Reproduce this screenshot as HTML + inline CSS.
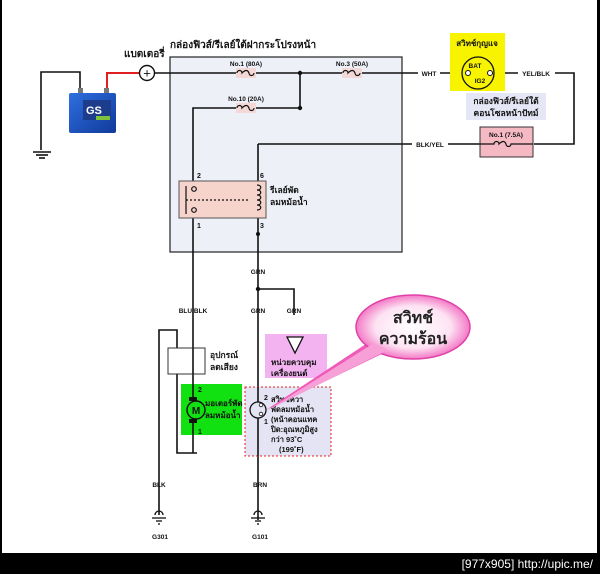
<!DOCTYPE html>
<html><head><meta charset="utf-8"><style>
html,body{margin:0;padding:0;background:#fff;width:600px;height:574px;overflow:hidden}
svg{display:block}
text{font-family:"Liberation Sans","Noto Sans CJK SC",sans-serif;font-weight:bold;fill:#111}
</style></head><body>
<svg width="600" height="574" viewBox="0 0 600 574" xmlns="http://www.w3.org/2000/svg">
<defs>
<radialGradient id="bub" cx="50%" cy="50%" r="55%">
<stop offset="0" stop-color="#fff"/><stop offset="0.6" stop-color="#fde3f3"/><stop offset="1" stop-color="#f05ab8"/>
</radialGradient>
<linearGradient id="bat" x1="0" y1="0" x2="1" y2="1"><stop offset="0" stop-color="#2f6fe0"/><stop offset="1" stop-color="#103a9a"/></linearGradient>
</defs>
<rect x="0" y="0" width="600" height="574" fill="#fff"/>
<rect x="0" y="0" width="2" height="574" fill="#000"/>
<rect x="597" y="0" width="3" height="574" fill="#000"/>
<rect x="0" y="553" width="600" height="21" fill="#000"/>
<text x="593" y="568" text-anchor="end" font-size="12" style="fill:#fff;font-weight:normal">[977x905] http://upic.me/</text>

<rect x="170" y="57" width="232" height="195" fill="#eef0f8" stroke="#222" stroke-width="1.2"/>
<text x="170" y="48" font-size="10">กล่องฟิวส์/รีเลย์ใต้ฝากระโปรงหน้า</text>
<text x="124" y="57" font-size="10">แบตเตอรี่</text>

<g stroke="#111" stroke-width="1.6" fill="none">
<polyline points="80,92 80,72 41,72 41,150"/>
<line x1="33" y1="152" x2="51" y2="152"/><line x1="36" y1="155" x2="48" y2="155"/><line x1="39" y1="158" x2="45" y2="158"/>
<line x1="154" y1="73" x2="237" y2="73"/><line x1="255" y1="73" x2="343" y2="73"/><line x1="362" y1="73" x2="418" y2="73"/>
<line x1="440" y1="73" x2="470" y2="73"/>
<line x1="486" y1="73" x2="518" y2="73"/>
<polyline points="555,73 574,73 574,144 534,144"/>
<line x1="300" y1="73" x2="300" y2="108"/>
<polyline points="300,108 255,108"/><polyline points="237,108 193,108 193,183"/>
<line x1="193" y1="216" x2="193" y2="453"/>
<polyline points="448,144 480,144"/>
<polyline points="258,144 412,144"/>
<line x1="258" y1="144" x2="258" y2="183"/>
<line x1="258" y1="216" x2="258" y2="520"/>
<polyline points="258,289 294,289 294,315"/>
<polyline points="159,515 159,330 177,330 177,453 197,453"/>
</g>
<circle cx="300" cy="73" r="2.2" fill="#111"/><circle cx="300" cy="108" r="2.2" fill="#111"/>
<circle cx="258" cy="289" r="2.2" fill="#111"/><circle cx="258" cy="234" r="2" fill="#111"/>
<polyline points="107,92 107,73 140,73" stroke="#e02020" stroke-width="2" fill="none"/>
<circle cx="147" cy="73" r="7.5" fill="#fff" stroke="#111" stroke-width="1.4"/>
<text x="147" y="77.5" font-size="13" text-anchor="middle" style="font-weight:normal">+</text>
<rect x="78" y="88" width="5" height="5" fill="#777"/><rect x="104" y="88" width="5" height="5" fill="#777"/>
<rect x="69" y="93" width="47" height="40" rx="2" fill="url(#bat)"/>
<rect x="83" y="100" width="28" height="20" fill="#1e3c8c"/>
<text x="86" y="114" font-size="11" style="fill:#fff">GS</text>
<rect x="96" y="116" width="14" height="4" fill="#7dc23a"/>

<g font-size="6.5">
<text x="246" y="66" text-anchor="middle">No.1 (80A)</text>
<text x="246" y="101" text-anchor="middle">No.10 (20A)</text>
<text x="352" y="66" text-anchor="middle">No.3 (50A)</text>
<text x="429" y="76" text-anchor="middle">WHT</text>
<text x="536" y="76" text-anchor="middle">YEL/BLK</text>
<text x="430" y="147" text-anchor="middle">BLK/YEL</text>
</g>
<rect x="236" y="68" width="20" height="10" fill="#f4d7d7"/><rect x="236" y="103" width="20" height="10" fill="#f4d7d7"/><rect x="342" y="68" width="20" height="10" fill="#f4d7d7"/>
<g stroke="#111" stroke-width="1.2" fill="none">
<path d="M237,73 a2.5,2.5 0 1,1 5,0 q5,-5 7,0 a2.5,2.5 0 1,0 5,0"/>
<path d="M237,108 a2.5,2.5 0 1,1 5,0 q5,-5 7,0 a2.5,2.5 0 1,0 5,0"/>
<path d="M343,73 a2.5,2.5 0 1,1 5,0 q5,-5 7,0 a2.5,2.5 0 1,0 5,0"/>
</g>
<rect x="450" y="33" width="55" height="58" fill="#f8f400"/>
<text x="477" y="46" font-size="8" text-anchor="middle">สวิทช์กุญแจ</text>
<circle cx="478" cy="73" r="16" fill="none" stroke="#111" stroke-width="1.3"/>
<circle cx="468" cy="73" r="2.5" fill="#fff" stroke="#111"/><circle cx="490" cy="73" r="2.5" fill="#fff" stroke="#111"/>
<text x="475" y="68" font-size="6.5" text-anchor="middle">BAT</text>
<text x="480" y="83" font-size="6.5" text-anchor="middle">IG2</text>
<rect x="466" y="93" width="80" height="27" fill="#e6e7f6"/>
<text x="506" y="104" font-size="8.5" text-anchor="middle">กล่องฟิวส์/รีเลย์ใต้</text>
<text x="506" y="116" font-size="8.5" text-anchor="middle">คอนโซลหน้าปัทม์</text>
<rect x="480" y="127" width="53" height="30" fill="#f5b9c4" stroke="#333"/>
<text x="506" y="137" font-size="6.5" text-anchor="middle">No.1 (7.5A)</text>
<path d="M480,144 h14 a2.5,2.5 0 1,1 5,0 q5,-5 7,0 a2.5,2.5 0 1,0 5,0 h22" stroke="#111" stroke-width="1.2" fill="none"/>

<rect x="179" y="181" width="87" height="37" fill="#f6d4cc" stroke="#555"/>
<g stroke="#111" stroke-width="1.2" fill="none">
<circle cx="194" cy="189" r="2.3"/><circle cx="194" cy="210" r="2.3"/>
<line x1="186" y1="186" x2="186" y2="214"/>
<line x1="186" y1="200" x2="250" y2="200" stroke-dasharray="2,2"/>
<path d="M257,185 c5,0 5,5 0,5 c5,0 5,5 0,5 c5,0 5,5 0,5 c5,0 5,5 0,5 c5,0 5,5 0,5"/>
</g>
<g font-size="7"><text x="197" y="178">2</text><text x="260" y="178">6</text><text x="197" y="228">1</text><text x="260" y="228">3</text></g>
<text x="270" y="193" font-size="8.5">รีเลย์พัด</text><text x="270" y="205" font-size="8.5">ลมหม้อน้ำ</text>

<g font-size="6.5">
<text x="258" y="274" text-anchor="middle">GRN</text>
<text x="258" y="313" text-anchor="middle">GRN</text>
<text x="294" y="313" text-anchor="middle">GRN</text>
<text x="193" y="313" text-anchor="middle">BLU/BLK</text>
<text x="159" y="487" text-anchor="middle">BLK</text>
<text x="260" y="487" text-anchor="middle">BRN</text>
<text x="160" y="539" text-anchor="middle">G301</text>
<text x="260" y="539" text-anchor="middle">G101</text>
</g>
<rect x="265" y="334" width="62" height="44" fill="#f3b3f0"/>
<polygon points="287,337 303,337 295,353" fill="#fff" stroke="#111" stroke-width="1.3"/>
<text x="271" y="365" font-size="8">หน่วยควบคุม</text><text x="271" y="376" font-size="8">เครื่องยนต์</text>
<rect x="168" y="348" width="37" height="26" fill="#fff" stroke="#333"/>
<line x1="193" y1="348" x2="193" y2="374" stroke="#111" stroke-width="1.6"/>
<text x="210" y="358" font-size="8.5">อุปกรณ์</text><text x="210" y="370" font-size="8.5">ลดเสียง</text>
<rect x="181" y="384" width="61" height="51" fill="#11e011"/>
<line x1="193" y1="384" x2="193" y2="435" stroke="#111" stroke-width="1.6"/>
<rect x="189" y="397" width="8" height="4" fill="#111"/><rect x="189" y="419" width="8" height="4" fill="#111"/>
<circle cx="196" cy="410" r="9" fill="#11e011" stroke="#111" stroke-width="1.4"/>
<text x="196" y="414" font-size="10" text-anchor="middle">M</text>
<text x="198" y="392" font-size="7">2</text><text x="198" y="434" font-size="7">1</text>
<text x="205" y="406" font-size="8">มอเตอร์พัด</text><text x="205" y="418" font-size="8">ลมหม้อน้ำ</text>
<rect x="245" y="387" width="86" height="69" fill="#e4e4f4" stroke="#e02020" stroke-dasharray="2,2"/>
<line x1="258" y1="387" x2="258" y2="456" stroke="#111" stroke-width="1.6"/>
<circle cx="258" cy="410" r="8" fill="#e4e4f4" stroke="#111" stroke-width="1.3"/>
<circle cx="261" cy="405" r="1.8" fill="#fff" stroke="#111" stroke-width="0.8"/><circle cx="261" cy="414" r="1.8" fill="#fff" stroke="#111" stroke-width="0.8"/>
<text x="264" y="400" font-size="7">2</text><text x="264" y="424" font-size="7">1</text>
<g font-size="7.5"><text x="271" y="402">สวิทช์ควา</text><text x="271" y="412">พัดลมหม้อน้ำ</text><text x="271" y="422">(หน้าคอนแทค</text><text x="271" y="432">ปิด:อุณหภูมิสูง</text><text x="271" y="442">กว่า 93˚C</text><text x="279" y="452">(199˚F)</text></g>
<g stroke="#111" stroke-width="1.3" fill="none">
<path d="M155,515 a4,4 0 0,1 8,0"/><line x1="152" y1="518" x2="166" y2="518"/><line x1="156" y1="521" x2="162" y2="521"/><line x1="158" y1="524" x2="160" y2="524"/>
<path d="M254,515 a4,4 0 0,1 8,0"/><line x1="251" y1="518" x2="265" y2="518"/><line x1="255" y1="521" x2="261" y2="521"/><line x1="257" y1="524" x2="259" y2="524"/>
</g>
<path d="M266,410 L372,340 L390,350 Z" fill="#f05ab8"/>
<ellipse cx="413" cy="327" rx="57" ry="32" fill="url(#bub)" stroke="#e040a8" stroke-width="1.5"/>
<path d="M268,410 L374,343 L388,350 Z" fill="#f7a0d8"/>
<text x="413" y="323" font-size="16" text-anchor="middle" style="fill:#222">สวิทช์</text>
<text x="413" y="344" font-size="16" text-anchor="middle" style="fill:#222">ความร้อน</text>
</svg>
</body></html>
